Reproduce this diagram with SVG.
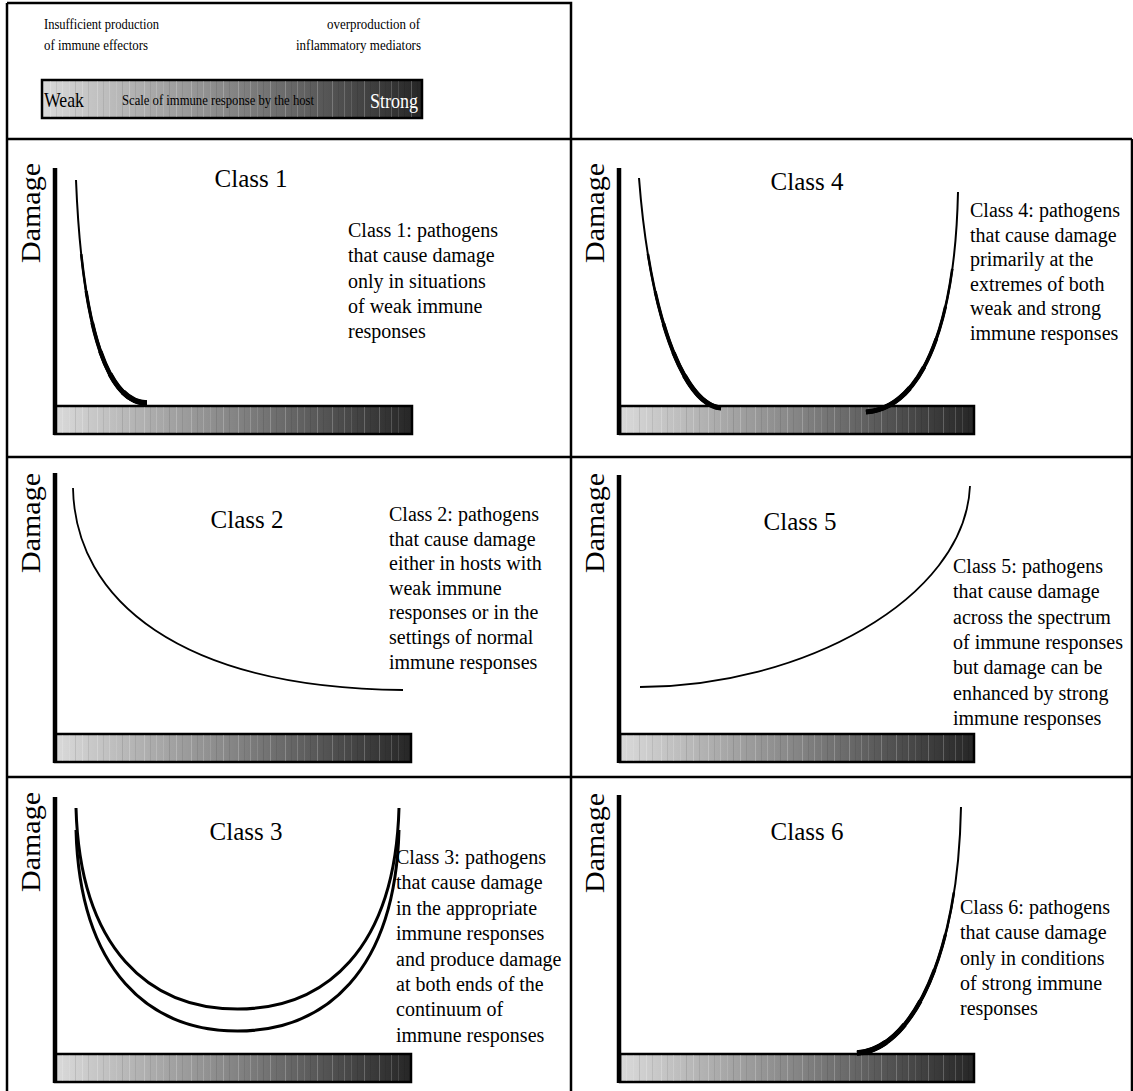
<svg xmlns="http://www.w3.org/2000/svg" width="1133" height="1091" viewBox="0 0 1133 1091">
  <defs>
    <style>
      text { font-family: "Liberation Serif", "Times New Roman", serif; fill: #000; }
      .frame { fill: none; stroke: #000; stroke-width: 2.5; }
      .axis { stroke: #000; stroke-width: 4.5; }
      .bar { fill: url(#scale); stroke: #000; stroke-width: 2.5; }
      .streak { fill: url(#streaks); stroke: none; }
      .title { font-size: 25px; text-anchor: middle; }
      .ylab { font-size: 27px; text-anchor: middle; }
      .desc { font-size: 20px; }
      .legend { font-size: 14px; }
      .curve { fill: none; stroke: #000; stroke-linecap: butt; }
      /* stacked strokes that thicken toward the start of a tapered path */
      .t0 { stroke-width: 2; }
      .t1 { stroke-width: 2.6; stroke-dasharray: 70 100; }
      .t2 { stroke-width: 3.2; stroke-dasharray: 55 100; }
      .t3 { stroke-width: 3.8; stroke-dasharray: 42 100; }
      .t4 { stroke-width: 4.4; stroke-dasharray: 30 100; }
      .t5 { stroke-width: 5; stroke-dasharray: 20 100; }
      .t6 { stroke-width: 5.6; stroke-dasharray: 11 100; }
    </style>
    <!-- weak (light) to strong (dark) immune response scale -->
    <linearGradient id="scale" x1="0" y1="0" x2="1" y2="0">
      <stop offset="0" stop-color="#dadada"/>
      <stop offset="0.5" stop-color="#858585"/>
      <stop offset="1" stop-color="#262626"/>
    </linearGradient>
    <!-- faint vertical banding over the scale bars -->
    <pattern id="streaks" width="47" height="10" patternUnits="userSpaceOnUse">
      <rect x="3" y="0" width="1" height="10" fill="#fff" fill-opacity="0.22"/>
      <rect x="9" y="0" width="1" height="10" fill="#000" fill-opacity="0.08"/>
      <rect x="15" y="0" width="1" height="10" fill="#fff" fill-opacity="0.18"/>
      <rect x="22" y="0" width="1" height="10" fill="#fff" fill-opacity="0.12"/>
      <rect x="28" y="0" width="1" height="10" fill="#000" fill-opacity="0.1"/>
      <rect x="35" y="0" width="1" height="10" fill="#fff" fill-opacity="0.22"/>
      <rect x="41" y="0" width="1" height="10" fill="#000" fill-opacity="0.08"/>
    </pattern>
    <!-- tapered curves: each path starts at its thick end -->
    <path id="k1" pathLength="100" d="M147,403 C108,403 82,330 76,180"/>
    <path id="k4a" pathLength="100" d="M721,408 C685,405 650,320 639,178"/>
    <path id="k4b" pathLength="100" d="M866,412 C920,408 955,330 958,192"/>
    <path id="k6" pathLength="100" d="M857,1053 C910,1050 958,960 961,807"/>
  </defs>

  <rect width="1133" height="1091" fill="#fff"/>

  <!-- table rules -->
  <g id="frame">
    <path class="frame" d="M7,3 H571 V1091 M7,3 V1091 M7,139 H1132 M1132,139 V1091 M7,457 H1132 M7,777 H1132"/>
  </g>

  <!-- legend: the scale of immune response -->
  <g id="scale-legend">
    <text class="legend" x="44" y="29" textLength="115" lengthAdjust="spacingAndGlyphs">Insufficient production</text>
    <text class="legend" x="44" y="50" textLength="104" lengthAdjust="spacingAndGlyphs">of immune effectors</text>
    <text class="legend" x="327" y="29" textLength="93" lengthAdjust="spacingAndGlyphs">overproduction of</text>
    <text class="legend" x="296" y="50" textLength="125" lengthAdjust="spacingAndGlyphs">inflammatory mediators</text>
    <rect class="bar" x="42" y="80" width="380" height="38"/>
    <rect class="streak" x="43" y="81" width="378" height="36"/>
    <text x="44" y="107" font-size="22" textLength="40" lengthAdjust="spacingAndGlyphs">Weak</text>
    <text x="122" y="105" font-size="15" textLength="192" lengthAdjust="spacingAndGlyphs">Scale of immune response by the host</text>
    <text x="370" y="108" font-size="22" style="fill:#fff" textLength="48" lengthAdjust="spacingAndGlyphs">Strong</text>
  </g>

  <!-- Class 1 -->
  <g id="class1">
    <text class="ylab" transform="translate(40,213) rotate(-90)" textLength="100" lengthAdjust="spacingAndGlyphs">Damage</text>
    <rect class="bar" x="55" y="406" width="357" height="28"/>
    <rect class="streak" x="56" y="407" width="355" height="26"/>
    <line class="axis" x1="55" y1="168" x2="55" y2="435"/>
    <text class="title" x="251" y="187">Class 1</text>
    <use href="#k1" class="curve t0"/>
    <use href="#k1" class="curve t1"/>
    <use href="#k1" class="curve t2"/>
    <use href="#k1" class="curve t3"/>
    <use href="#k1" class="curve t4"/>
    <use href="#k1" class="curve t5"/>
    <use href="#k1" class="curve t6"/>
    <text class="desc" x="348" y="237">
      <tspan x="348">Class 1: pathogens</tspan>
      <tspan x="348" dy="25.3">that cause damage</tspan>
      <tspan x="348" dy="25.3">only in situations</tspan>
      <tspan x="348" dy="25.3">of weak immune</tspan>
      <tspan x="348" dy="25.3">responses</tspan>
    </text>
  </g>

  <!-- Class 4 -->
  <g id="class4">
    <text class="ylab" transform="translate(604,213) rotate(-90)" textLength="100" lengthAdjust="spacingAndGlyphs">Damage</text>
    <rect class="bar" x="620" y="406" width="354" height="28"/>
    <rect class="streak" x="621" y="407" width="352" height="26"/>
    <line class="axis" x1="619" y1="168" x2="619" y2="435"/>
    <text class="title" x="807" y="190">Class 4</text>
    <use href="#k4a" class="curve t0"/>
    <use href="#k4a" class="curve t1"/>
    <use href="#k4a" class="curve t2"/>
    <use href="#k4a" class="curve t3"/>
    <use href="#k4a" class="curve t4"/>
    <use href="#k4a" class="curve t5"/>
    <use href="#k4b" class="curve t0"/>
    <use href="#k4b" class="curve t1"/>
    <use href="#k4b" class="curve t2"/>
    <use href="#k4b" class="curve t3"/>
    <use href="#k4b" class="curve t4"/>
    <use href="#k4b" class="curve t5"/>
    <text class="desc" x="970" y="217">
      <tspan x="970">Class 4: pathogens</tspan>
      <tspan x="970" dy="24.6">that cause damage</tspan>
      <tspan x="970" dy="24.6">primarily at the</tspan>
      <tspan x="970" dy="24.6">extremes of both</tspan>
      <tspan x="970" dy="24.6">weak and strong</tspan>
      <tspan x="970" dy="24.6">immune responses</tspan>
    </text>
  </g>

  <!-- Class 2 -->
  <g id="class2">
    <text class="ylab" transform="translate(40,523) rotate(-90)" textLength="100" lengthAdjust="spacingAndGlyphs">Damage</text>
    <rect class="bar" x="55" y="734" width="356" height="28"/>
    <rect class="streak" x="56" y="735" width="354" height="26"/>
    <line class="axis" x1="55" y1="473" x2="55" y2="763"/>
    <text class="title" x="247" y="528">Class 2</text>
    <path class="curve" stroke-width="1.8" d="M73,488 C75,600 180,688 403,690"/>
    <text class="desc" x="389" y="521">
      <tspan x="389">Class 2: pathogens</tspan>
      <tspan x="389" dy="24.6">that cause damage</tspan>
      <tspan x="389" dy="24.6">either in hosts with</tspan>
      <tspan x="389" dy="24.6">weak immune</tspan>
      <tspan x="389" dy="24.6">responses or in the</tspan>
      <tspan x="389" dy="24.6">settings of normal</tspan>
      <tspan x="389" dy="24.6">immune responses</tspan>
    </text>
  </g>

  <!-- Class 5 -->
  <g id="class5">
    <text class="ylab" transform="translate(604,523) rotate(-90)" textLength="100" lengthAdjust="spacingAndGlyphs">Damage</text>
    <rect class="bar" x="620" y="734" width="354" height="28"/>
    <rect class="streak" x="621" y="735" width="352" height="26"/>
    <line class="axis" x1="619" y1="475" x2="619" y2="763"/>
    <text class="title" x="800" y="530">Class 5</text>
    <path class="curve" stroke-width="1.8" d="M640,687 C800,687 965,600 970,486"/>
    <text class="desc" x="953" y="573">
      <tspan x="953">Class 5: pathogens</tspan>
      <tspan x="953" dy="25.3">that cause damage</tspan>
      <tspan x="953" dy="25.3">across the spectrum</tspan>
      <tspan x="953" dy="25.3">of immune responses</tspan>
      <tspan x="953" dy="25.3">but damage can be</tspan>
      <tspan x="953" dy="25.3">enhanced by strong</tspan>
      <tspan x="953" dy="25.3">immune responses</tspan>
    </text>
  </g>

  <!-- Class 3 -->
  <g id="class3">
    <text class="ylab" transform="translate(40,842) rotate(-90)" textLength="100" lengthAdjust="spacingAndGlyphs">Damage</text>
    <rect class="bar" x="55" y="1054" width="356" height="28"/>
    <rect class="streak" x="56" y="1055" width="354" height="26"/>
    <line class="axis" x1="55" y1="797" x2="55" y2="1083"/>
    <text class="title" x="246" y="840">Class 3</text>
    <path class="curve" stroke-width="3" d="M76,808 C80,950 150,1009 237.5,1009 C325,1009 395,950 399,808"/>
    <path class="curve" stroke-width="3" d="M76,830 C80,972 150,1031 237.5,1031 C325,1031 395,972 399,830"/>
    <text class="desc" x="396" y="864">
      <tspan x="396">Class 3: pathogens</tspan>
      <tspan x="396" dy="25.4">that cause damage</tspan>
      <tspan x="396" dy="25.4">in the appropriate</tspan>
      <tspan x="396" dy="25.4">immune responses</tspan>
      <tspan x="396" dy="25.4">and produce damage</tspan>
      <tspan x="396" dy="25.4">at both ends of the</tspan>
      <tspan x="396" dy="25.4">continuum of</tspan>
      <tspan x="396" dy="25.4">immune responses</tspan>
    </text>
  </g>

  <!-- Class 6 -->
  <g id="class6">
    <text class="ylab" transform="translate(604,843) rotate(-90)" textLength="100" lengthAdjust="spacingAndGlyphs">Damage</text>
    <rect class="bar" x="620" y="1054" width="354" height="28"/>
    <rect class="streak" x="621" y="1055" width="352" height="26"/>
    <line class="axis" x1="619" y1="795" x2="619" y2="1083"/>
    <text class="title" x="807" y="840">Class 6</text>
    <use href="#k6" class="curve t0"/>
    <use href="#k6" class="curve t1"/>
    <use href="#k6" class="curve t2"/>
    <use href="#k6" class="curve t3"/>
    <use href="#k6" class="curve t4"/>
    <use href="#k6" class="curve t5"/>
    <use href="#k6" class="curve t6"/>
    <text class="desc" x="960" y="914">
      <tspan x="960">Class 6: pathogens</tspan>
      <tspan x="960" dy="25.3">that cause damage</tspan>
      <tspan x="960" dy="25.3">only in conditions</tspan>
      <tspan x="960" dy="25.3">of strong immune</tspan>
      <tspan x="960" dy="25.3">responses</tspan>
    </text>
  </g>

  <!-- no connectors between the panels -->
  <g id="connectors"/>
</svg>
